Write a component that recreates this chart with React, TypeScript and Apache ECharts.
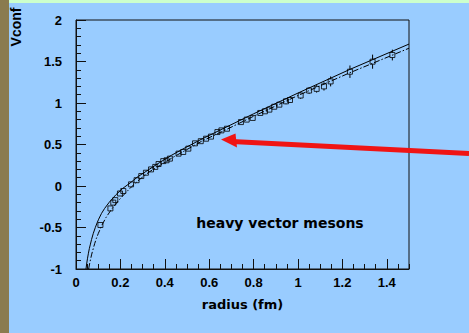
import React, { useEffect, useRef } from "react";
import * as echarts from "echarts";

// measured data points (radius in fm, Vconf) and their errors
const radius = [0.110, 0.155, 0.168, 0.177, 0.198, 0.213, 0.248, 0.273, 0.294, 0.315, 0.338, 0.357, 0.372, 0.393, 0.408, 0.423, 0.462, 0.483, 0.506, 0.536, 0.562, 0.586, 0.608, 0.637, 0.655, 0.680, 0.743, 0.769, 0.796, 0.830, 0.851, 0.871, 0.893, 0.916, 0.946, 0.964, 1.012, 1.050, 1.084, 1.117, 1.147, 1.234, 1.336, 1.425];
const vconf = [-0.47, -0.27, -0.20, -0.17, -0.09, -0.06, 0.02, 0.07, 0.12, 0.16, 0.20, 0.23, 0.265, 0.30, 0.31, 0.33, 0.39, 0.41, 0.45, 0.514, 0.54, 0.57, 0.595, 0.65, 0.67, 0.69, 0.77, 0.80, 0.82, 0.88, 0.90, 0.92, 0.955, 0.98, 1.02, 1.036, 1.09, 1.15, 1.17, 1.20, 1.26, 1.377, 1.498, 1.578];
const vErr = [0.02, 0.02, 0.02, 0.02, 0.02, 0.02, 0.02, 0.02, 0.02, 0.02, 0.02, 0.02, 0.02, 0.02, 0.02, 0.02, 0.02, 0.02, 0.02, 0.02, 0.02, 0.02, 0.02, 0.02, 0.02, 0.02, 0.03, 0.03, 0.03, 0.03, 0.03, 0.03, 0.03, 0.03, 0.035, 0.035, 0.04, 0.04, 0.045, 0.05, 0.06, 0.075, 0.085, 0.065];

// fitted curves
const solidR = [0.045, 0.048, 0.052, 0.056, 0.06, 0.065, 0.07, 0.078, 0.087, 0.095, 0.102, 0.115, 0.129, 0.15, 0.18, 0.21, 0.248, 0.28, 0.315, 0.375, 0.43, 0.495, 0.57, 0.65, 0.8, 1.0, 1.234, 1.5];
const solidV = [-1.0, -0.94, -0.87, -0.81, -0.755, -0.70, -0.645, -0.57, -0.50, -0.445, -0.40, -0.33, -0.27, -0.195, -0.105, -0.03, 0.045, 0.115, 0.175, 0.28, 0.37, 0.465, 0.57, 0.675, 0.87, 1.12, 1.405, 1.71];
const dashR = [0.057, 0.061, 0.065, 0.07, 0.075, 0.084, 0.092, 0.1, 0.117, 0.135, 0.159, 0.19, 0.219, 0.25, 0.287, 0.33, 0.38, 0.44, 0.5, 0.57, 0.65, 0.8, 1.0, 1.234, 1.5];
const dashV = [-1.0, -0.94, -0.89, -0.83, -0.78, -0.695, -0.63, -0.575, -0.47, -0.38, -0.285, -0.18, -0.095, -0.01, 0.08, 0.17, 0.25, 0.35, 0.44, 0.545, 0.645, 0.84, 1.09, 1.365, 1.66];

const xMin = 0, xMax = 1.5, xMajor = 0.2, xMinor = 0.05;
const yMin = -1, yMax = 2, yMajor = 0.5;

const xTitle = "radius (fm)";
const yTitle = "Vconf";
const note = "heavy vector mesons";

const tickFont = "'Liberation Sans', Arial, sans-serif";

export default function App() {
  const ref = useRef<HTMLDivElement>(null);
  useEffect(() => {
    const chart = echarts.init(ref.current!, null, { renderer: "svg" });
    const pts = radius.map((r, i) => [r, vconf[i], vErr[i]]);
    const axisColor = "#111";
    chart.setOption({
      animation: false,
      backgroundColor: "#99ccff",
      grid: {
        left: 76, top: 20, width: 333, height: 249,
        show: true, borderColor: axisColor, borderWidth: 1, backgroundColor: "transparent",
      },
      xAxis: [
        {
          type: "value", min: xMin, max: xMax, interval: xMajor, position: "bottom",
          axisLine: { show: true, onZero: false, lineStyle: { color: axisColor, width: 1 } },
          axisTick: { show: true, inside: true, length: 10, lineStyle: { color: axisColor } },
          axisLabel: { showMaxLabel: false, margin: 7, fontFamily: tickFont, fontWeight: "bold", fontSize: 13, color: "#000" },
          splitLine: { show: false },
          name: xTitle, nameLocation: "middle", nameGap: 29,
          nameTextStyle: { fontFamily: "'DejaVu Sans', sans-serif", fontWeight: "bold", fontSize: 13, color: "#000" },
        },
        {
          type: "value", min: xMin, max: xMax, interval: xMinor, position: "bottom",
          axisLine: { show: false, onZero: false },
          axisTick: { show: true, inside: true, length: 5, lineStyle: { color: axisColor } },
          axisLabel: { show: false },
          splitLine: { show: false },
        },
      ],
      yAxis: {
        type: "value", min: yMin, max: yMax, interval: yMajor,
        axisLine: { show: true, onZero: false, lineStyle: { color: axisColor, width: 1 } },
        axisTick: { show: true, inside: true, length: 10, lineStyle: { color: axisColor } },
        minorTick: { show: true, splitNumber: 5, length: 5, lineStyle: { color: axisColor } },
        axisLabel: { margin: 14, fontFamily: tickFont, fontWeight: "bold", fontSize: 13, color: "#000" },
        splitLine: { show: false },
        minorSplitLine: { show: false },
      },
      graphic: [
        { type: "rect", z: -10, shape: { x: 0, y: 0, width: 9, height: 333 }, style: { fill: "#8a7b4f" }, silent: true },
        { type: "rect", z: -10, shape: { x: 9, y: 0, width: 460, height: 3 }, style: { fill: "#ccffcc" }, silent: true },
        {
          type: "text", x: 15.5, y: 27, rotation: Math.PI / 2,
          style: { text: yTitle, fontFamily: tickFont, fontWeight: "bold", fontSize: 14, fill: "#000", align: "center", verticalAlign: "middle" },
        },
        {
          type: "text", x: 280, y: 223,
          style: { text: note, fontFamily: "'DejaVu Sans', sans-serif", fontWeight: "bold", fontSize: 14, fill: "#000", align: "center", verticalAlign: "middle" },
        },
        { type: "line", z: 100, shape: { x1: 469, y1: 153.5, x2: 232, y2: 141.5 }, style: { stroke: "#f01414", lineWidth: 5 } },
        { type: "polygon", z: 100, shape: { points: [[221, 139.5], [235.5, 133.5], [237, 147.5]] }, style: { fill: "#f01414" } },
      ],
      series: [
        {
          type: "line", xAxisIndex: 0, data: solidR.map((r, i) => [r, solidV[i]]),
          smooth: false, showSymbol: false, clip: true,
          lineStyle: { color: "#000", width: 1 },
        },
        {
          type: "line", xAxisIndex: 0, data: dashR.map((r, i) => [r, dashV[i]]),
          smooth: false, showSymbol: false, clip: true,
          lineStyle: { color: "#000", width: 1, type: [6, 2, 1.5, 2] },
        },
        {
          type: "custom", xAxisIndex: 0, data: pts,
          renderItem: (params: any, api: any) => {
            const x = api.value(0), y = api.value(1), e = api.value(2);
            const c = api.coord([x, y]);
            const hi = api.coord([x, y + e]);
            const lo = api.coord([x, y - e]);
            const h = 2.5;
            const children: any[] = [];
            if (c[1] - hi[1] > h) children.push({ type: "line", shape: { x1: c[0], y1: hi[1], x2: c[0], y2: c[1] - h }, style: { stroke: "#000", lineWidth: 1 } });
            if (lo[1] - c[1] > h) children.push({ type: "line", shape: { x1: c[0], y1: c[1] + h, x2: c[0], y2: lo[1] }, style: { stroke: "#000", lineWidth: 1 } });
            return { type: "group", children };
          },
        },
        {
          type: "scatter", xAxisIndex: 0, data: pts.map((p) => [p[0], p[1]]),
          symbol: "rect", symbolSize: 5,
          itemStyle: { color: "rgba(0,0,0,0)", borderColor: "#000", borderWidth: 1 },
        },
      ],
    });
    return () => chart.dispose();
  }, []);
  return <div ref={ref} style={{ position: "fixed", left: 0, top: 0, width: 469, height: 333 }} />;
}
